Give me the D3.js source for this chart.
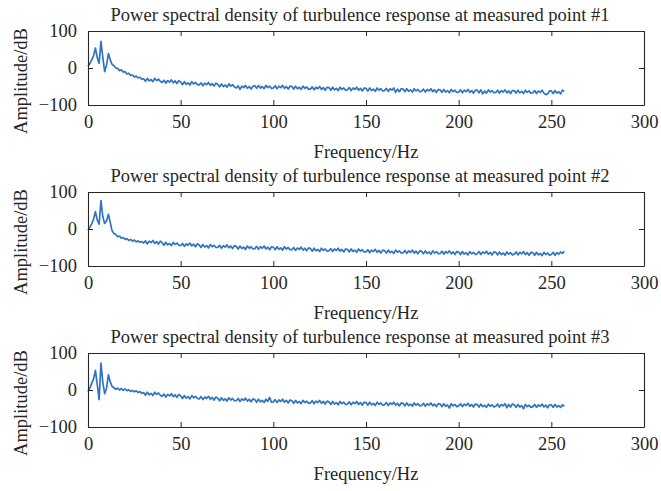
<!DOCTYPE html>
<html>
<head>
<meta charset="utf-8">
<script src="https://cdn.jsdelivr.net/npm/d3@7"></script>
<style>
  body { margin: 0; background: #fff; }
  svg text { font-family: "Liberation Serif", "Times New Roman", serif; fill: #262626; }
</style>
</head>
<body>
<div id="chart"></div>
<script>
// frequency bins (Hz)
const freqHz = [
  0,1,2,3,4,5,6,7,8,9,10,11,12,13,14,15,16,17,18,19,20,21,22,23,24,25,26,27,28,29,
  30,31,32,33,34,35,36,37,38,39,40,41,42,43,44,45,46,47,48,49,50,51,52,53,54,55,56,57,58,59,
  60,61,62,63,64,65,66,67,68,69,70,71,72,73,74,75,76,77,78,79,80,81,82,83,84,85,86,87,88,89,
  90,91,92,93,94,95,96,97,98,99,100,101,102,103,104,105,106,107,108,109,110,111,112,113,114,115,116,117,118,119,
  120,121,122,123,124,125,126,127,128,129,130,131,132,133,134,135,136,137,138,139,140,141,142,143,144,145,146,147,148,149,
  150,151,152,153,154,155,156,157,158,159,160,161,162,163,164,165,166,167,168,169,170,171,172,173,174,175,176,177,178,179,
  180,181,182,183,184,185,186,187,188,189,190,191,192,193,194,195,196,197,198,199,200,201,202,203,204,205,206,207,208,209,
  210,211,212,213,214,215,216,217,218,219,220,221,222,223,224,225,226,227,228,229,230,231,232,233,234,235,236,237,238,239,
  240,241,242,243,244,245,246,247,248,249,250,251,252,253,254,255,256,257
];

// PSD in dB, measured point #1
const psdPoint1 = [
  5,12,22,33,54,28,13,72,28,-10,
  8,39,22,10,6,0,-1,-7,-5,-11,
  -10,-16,-14,-20,-19,-24,-22,-27,-25,-30,
  -29,-36,-28,-35,-31,-37,-28,-34,-30,-36,
  -39,-33,-41,-34,-38,-32,-40,-35,-42,-34,
  -38,-45,-37,-44,-40,-46,-37,-43,-39,-45,
  -46,-40,-48,-41,-45,-39,-47,-42,-49,-41,
  -44,-51,-43,-50,-46,-52,-43,-49,-45,-51,
  -54,-48,-58,-49,-53,-47,-55,-50,-57,-49,
  -48,-55,-47,-54,-50,-56,-47,-53,-49,-55,
  -54,-48,-56,-49,-53,-47,-55,-50,-57,-49,
  -50,-57,-49,-56,-52,-58,-49,-55,-51,-57,
  -57,-51,-59,-52,-56,-50,-58,-53,-60,-52,
  -53,-60,-52,-59,-55,-61,-52,-58,-54,-60,
  -59,-53,-61,-54,-58,-52,-60,-55,-62,-54,
  -55,-62,-54,-61,-57,-63,-54,-60,-56,-62,
  -61,-55,-63,-56,-60,-54,-66,-57,-64,-56,
  -57,-64,-56,-63,-59,-65,-56,-62,-58,-64,
  -63,-57,-65,-58,-62,-56,-64,-59,-66,-58,
  -59,-66,-58,-65,-61,-67,-58,-64,-60,-66,
  -65,-59,-67,-60,-64,-58,-66,-61,-68,-60,
  -60,-67,-59,-70,-62,-68,-59,-65,-61,-67,
  -66,-60,-68,-61,-65,-59,-67,-62,-69,-61,
  -61,-68,-60,-67,-63,-69,-60,-66,-62,-68,
  -67,-61,-69,-62,-66,-60,-68,-72,-70,-62,
  -62,-69,-61,-68,-64,-70,-60,-63
];

// PSD in dB, measured point #2
const psdPoint2 = [
  -3,5,14,27,47,24,13,77,33,15,
  22,40,18,-5,-12,-15,-21,-19,-25,-23,
  -28,-26,-31,-28,-33,-30,-35,-32,-36,-34,
  -38,-32,-40,-33,-37,-31,-39,-34,-41,-33,
  -37,-44,-36,-43,-39,-45,-36,-42,-38,-44,
  -45,-39,-47,-40,-44,-38,-46,-41,-48,-40,
  -43,-50,-42,-49,-45,-51,-42,-48,-44,-50,
  -50,-44,-52,-45,-49,-43,-51,-46,-53,-45,
  -47,-54,-46,-53,-49,-55,-46,-52,-48,-54,
  -53,-47,-55,-48,-52,-46,-54,-49,-56,-48,
  -49,-56,-48,-55,-51,-57,-48,-54,-50,-56,
  -56,-50,-58,-51,-55,-49,-57,-52,-59,-51,
  -53,-60,-52,-59,-55,-61,-52,-58,-54,-60,
  -59,-53,-61,-54,-58,-52,-60,-55,-62,-54,
  -55,-62,-54,-61,-57,-63,-54,-60,-56,-62,
  -62,-56,-64,-57,-61,-55,-63,-58,-65,-57,
  -58,-65,-57,-64,-60,-66,-57,-63,-59,-65,
  -64,-58,-66,-59,-63,-57,-65,-60,-67,-59,
  -60,-67,-59,-66,-62,-68,-59,-65,-61,-67,
  -66,-60,-68,-61,-65,-59,-67,-62,-69,-61,
  -62,-69,-61,-68,-64,-70,-61,-67,-63,-69,
  -67,-61,-69,-62,-66,-60,-68,-63,-70,-62,
  -63,-70,-62,-69,-65,-71,-62,-68,-64,-70,
  -68,-62,-70,-63,-67,-61,-69,-64,-71,-63,
  -64,-71,-63,-70,-66,-72,-63,-69,-65,-71,
  -69,-63,-71,-64,-68,-62,-66,-60
];

// PSD in dB, measured point #3
const psdPoint3 = [
  -4,5,18,30,53,15,-26,73,20,-10,
  5,41,22,10,6,2,5,0,4,-1,
  3,-2,1,-4,-1,-5,-2,-7,-4,-9,
  -7,-14,-6,-13,-9,-15,-6,-12,-8,-14,
  -17,-11,-19,-12,-16,-10,-18,-13,-20,-12,
  -16,-23,-15,-22,-18,-24,-15,-21,-17,-23,
  -24,-18,-26,-19,-23,-17,-25,-20,-27,-19,
  -22,-29,-21,-28,-24,-30,-21,-27,-23,-29,
  -29,-23,-31,-24,-28,-22,-30,-25,-32,-24,
  -26,-33,-25,-32,-28,-34,-25,-31,-20,-33,
  -32,-26,-34,-27,-31,-25,-33,-28,-35,-27,
  -29,-36,-28,-35,-31,-37,-28,-34,-30,-36,
  -35,-29,-37,-30,-34,-28,-36,-31,-38,-30,
  -32,-39,-31,-38,-34,-40,-31,-37,-33,-39,
  -38,-32,-40,-33,-37,-31,-39,-34,-41,-33,
  -34,-41,-33,-40,-36,-42,-33,-39,-35,-41,
  -40,-34,-42,-35,-39,-33,-41,-36,-43,-35,
  -36,-43,-35,-42,-38,-44,-35,-41,-37,-43,
  -42,-36,-44,-37,-41,-35,-43,-38,-45,-37,
  -38,-45,-37,-44,-40,-49,-37,-43,-39,-45,
  -43,-37,-45,-38,-42,-36,-44,-39,-46,-38,
  -39,-46,-38,-45,-41,-47,-38,-44,-40,-46,
  -44,-38,-46,-39,-43,-37,-48,-39,-46,-38,
  -40,-47,-39,-46,-42,-51,-39,-45,-41,-47,
  -45,-39,-47,-40,-44,-38,-46,-41,-48,-40,
  -40,-47,-39,-46,-42,-47,-40,-44
];

const titles = [
  "Power spectral density of turbulence response at measured point #1",
  "Power spectral density of turbulence response at measured point #2",
  "Power spectral density of turbulence response at measured point #3"
];
const xTicks = [0, 50, 100, 150, 200, 250, 300];
const yTicks = [-100, 0, 100];
const xLabel = "Frequency/Hz";
const yLabel = "Amplitude/dB";

const series = [psdPoint1, psdPoint2, psdPoint3];

const width = 661, height = 491;
const left = 88, right = 644;
const panelTops = [31, 192, 353];
const panelH = 74;
const tickLen = 5;
const axisColor = "#262626";
const lineColor = "#3274bd";
const fontSize = 18.5;

const svg = d3.select("#chart").append("svg")
  .attr("width", width)
  .attr("height", height);

const x = d3.scaleLinear().domain([0, 300]).range([left, right]);

series.forEach((vals, i) => {
  const top = panelTops[i];
  const y = d3.scaleLinear().domain([-100, 100]).range([top + panelH, top]);
  const g = svg.append("g");

  // the spectrum
  const line = d3.line()
    .x((d, k) => x(freqHz[k]))
    .y(d => y(d));
  g.append("path")
    .datum(vals)
    .attr("fill", "none")
    .attr("stroke", lineColor)
    .attr("stroke-width", 1.7)
    .attr("stroke-linejoin", "round")
    .attr("d", line);

  // axes with inward ticks (matlab style box)
  const bottomAxis = g.append("g")
    .attr("transform", `translate(0,${top + panelH})`)
    .call(d3.axisBottom(x).tickValues(xTicks).tickSizeInner(-tickLen).tickSizeOuter(0).tickPadding(10));
  const topAxis = g.append("g")
    .attr("transform", `translate(0,${top})`)
    .call(d3.axisTop(x).tickValues(xTicks).tickSizeInner(-tickLen).tickSizeOuter(0).tickFormat(""));
  const leftAxis = g.append("g")
    .attr("transform", `translate(${left},0)`)
    .call(d3.axisLeft(y).tickValues(yTicks).tickSizeInner(-tickLen).tickSizeOuter(0).tickPadding(11));
  const rightAxis = g.append("g")
    .attr("transform", `translate(${right},0)`)
    .call(d3.axisRight(y).tickValues(yTicks).tickSizeInner(-tickLen).tickSizeOuter(0).tickFormat(""));

  [bottomAxis, topAxis, leftAxis, rightAxis].forEach(a => {
    a.select(".domain").attr("stroke", axisColor).attr("stroke-width", 1.1);
    a.selectAll(".tick line").attr("stroke", axisColor).attr("stroke-width", 1);
    a.selectAll("text").attr("font-size", fontSize).attr("fill", axisColor)
      .attr("font-family", "Liberation Serif, serif");
  });

  // titles and labels
  g.append("text")
    .attr("x", (left + right) / 2 - 6)
    .attr("y", top - 10)
    .attr("text-anchor", "middle")
    .attr("font-size", fontSize)
    .text(titles[i]);

  g.append("text")
    .attr("x", (left + right) / 2)
    .attr("y", top + panelH + 53)
    .attr("text-anchor", "middle")
    .attr("font-size", fontSize)
    .text(xLabel);

  g.append("text")
    .attr("transform", `translate(27,${top + panelH / 2 + 13}) rotate(-90)`)
    .attr("text-anchor", "middle")
    .attr("font-size", fontSize)
    .text(yLabel);
});
</script>
</body>
</html>
